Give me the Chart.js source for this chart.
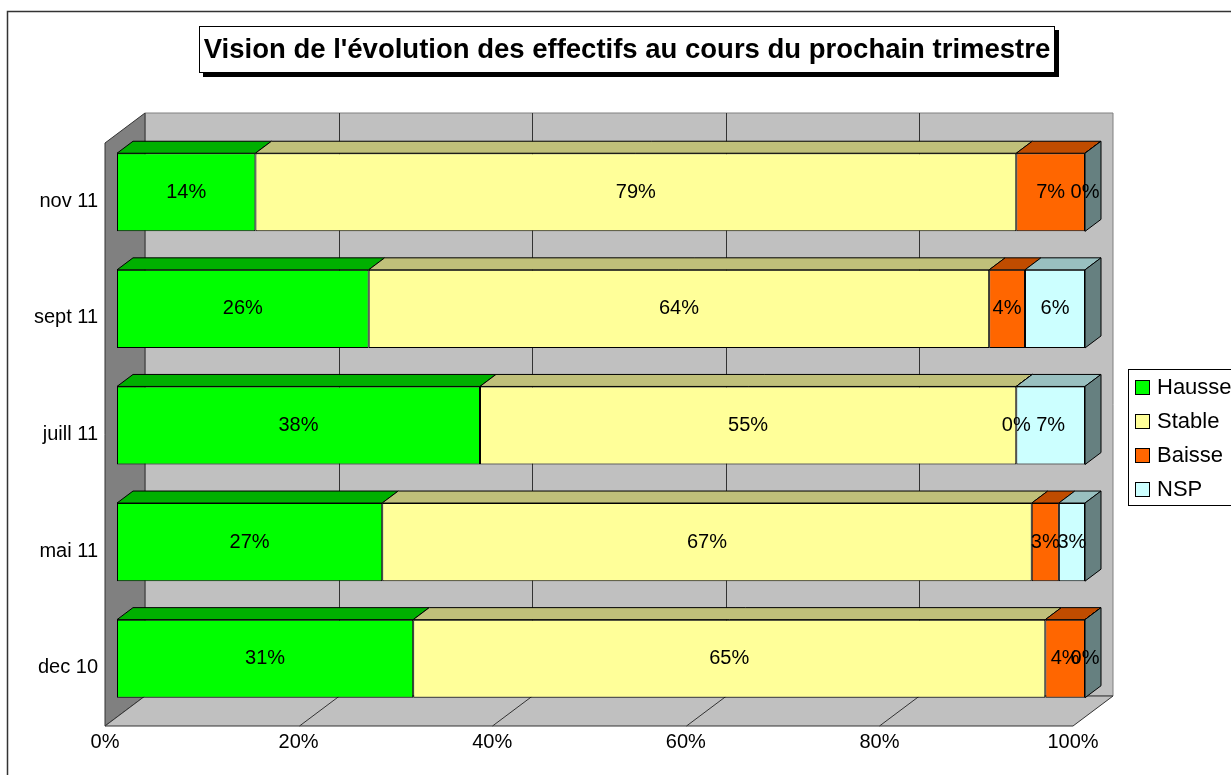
<!DOCTYPE html>
<html>
<head>
<meta charset="utf-8">
<script src="https://cdn.jsdelivr.net/npm/chart.js@4.4.1/dist/chart.umd.min.js"></script>
<style>
  body { margin: 0; background: #fff; }
  canvas { display: block; }
</style>
</head>
<body>
<canvas id="chart" width="1231" height="775"></canvas>
<script>
const categories = ["nov 11", "sept 11", "juill 11", "mai 11", "dec 10"];
const seriesNames = ["Hausse", "Stable", "Baisse", "NSP"];
const hausse = [14.3, 26.0, 37.5, 27.4, 30.6];
const stable = [78.6, 64.1, 55.4, 67.1, 65.3];
const baisse = [7.1, 3.7, 0, 2.8, 4.1];
const nsp = [0, 6.2, 7.1, 2.7, 0];
const xTicks = [0, 20, 40, 60, 80, 100];

const frontColors = ["#00ff00", "#ffff99", "#ff6600", "#ccffff"];
const topColors = ["#00b000", "#c0c07a", "#c04c00", "#99c0c0"];
const sideColors = ["#008000", "#808050", "#803300", "#668080"];

const FONT = "Arial, 'Liberation Sans', sans-serif";
// depth offsets (pixels) relative to the bar front plane
const BAR_DX = 16, BAR_DY = -12;
const FRONT_DX = -12, FRONT_DY = 9;
const BACK_DX = 28, BACK_DY = -21;

function poly(ctx, pts, fill, stroke) {
  ctx.beginPath();
  ctx.moveTo(pts[0][0], pts[0][1]);
  for (let i = 1; i < pts.length; i++) ctx.lineTo(pts[i][0], pts[i][1]);
  ctx.closePath();
  if (fill) { ctx.fillStyle = fill; ctx.fill(); }
  if (stroke) { ctx.strokeStyle = stroke; ctx.lineWidth = 1; ctx.stroke(); }
}

const frame3d = {
  id: "frame3d",
  beforeDraw(chart) {
    const ctx = chart.ctx;
    ctx.save();
    ctx.fillStyle = "#fff";
    ctx.fillRect(0, 0, chart.width, chart.height);
    ctx.strokeStyle = "#333";
    ctx.lineWidth = 1.5;
    ctx.strokeRect(7.5, 11.5, 1400, 900);
    ctx.restore();
  },
  beforeDatasetsDraw(chart) {
    const ctx = chart.ctx;
    const { left, right, top, bottom } = chart.chartArea;
    const xs = chart.scales.x, ys = chart.scales.y;
    ctx.save();
    // back wall
    poly(ctx, [[left + BACK_DX, top + BACK_DY], [right + BACK_DX, top + BACK_DY],
      [right + BACK_DX, bottom + BACK_DY], [left + BACK_DX, bottom + BACK_DY]], "#c0c0c0", "#808080");
    // left wall
    poly(ctx, [[left + FRONT_DX, top + FRONT_DY], [left + BACK_DX, top + BACK_DY],
      [left + BACK_DX, bottom + BACK_DY], [left + FRONT_DX, bottom + FRONT_DY]], "#808080", "#333");
    // floor
    poly(ctx, [[left + FRONT_DX, bottom + FRONT_DY], [left + BACK_DX, bottom + BACK_DY],
      [right + BACK_DX, bottom + BACK_DY], [right + FRONT_DX, bottom + FRONT_DY]], "#c0c0c0", "#333");
    // gridlines
    ctx.strokeStyle = "#333";
    ctx.lineWidth = 1;
    for (const v of xTicks.slice(1, -1)) {
      const px = Math.round(xs.getPixelForValue(v)) + 0.5;
      ctx.beginPath();
      ctx.moveTo(px + BACK_DX, top + BACK_DY);
      ctx.lineTo(px + BACK_DX, bottom + BACK_DY);
      ctx.lineTo(px + FRONT_DX, bottom + FRONT_DY);
      ctx.stroke();
    }
    // tick labels
    ctx.fillStyle = "#000";
    ctx.font = `20px ${FONT}`;
    ctx.textAlign = "center";
    ctx.textBaseline = "middle";
    for (const v of xTicks) {
      ctx.fillText(v + "%", xs.getPixelForValue(v) + FRONT_DX, bottom + FRONT_DY + 16);
    }
    ctx.textAlign = "right";
    categories.forEach((c, i) => {
      ctx.fillText(c, left + FRONT_DX - 7, ys.getPixelForValue(i) + FRONT_DY);
    });
    ctx.restore();
  },
  afterDatasetsDraw(chart) {
    const ctx = chart.ctx;
    const n = chart.data.datasets.length;
    ctx.save();
    for (let d = 0; d < n; d++) {
      const meta = chart.getDatasetMeta(d);
      meta.data.forEach((el) => {
        const { x, base, y, height } = el.getProps(["x", "base", "y", "height"], true);
        const t = y - height / 2, b = y + height / 2;
        poly(ctx, [[base, t], [base + BAR_DX, t + BAR_DY], [x + BAR_DX, t + BAR_DY], [x, t]], topColors[d], "#000");
        if (d === n - 1) {
          poly(ctx, [[x, t], [x + BAR_DX, t + BAR_DY], [x + BAR_DX, b + BAR_DY], [x, b]], sideColors[d], "#000");
        }
      });
    }
    ctx.fillStyle = "#000";
    ctx.font = `20px ${FONT}`;
    ctx.textAlign = "center";
    ctx.textBaseline = "middle";
    for (let d = 0; d < n; d++) {
      const meta = chart.getDatasetMeta(d);
      meta.data.forEach((el, i) => {
        const { x, base, y } = el.getProps(["x", "base", "y"], true);
        const v = chart.data.datasets[d].data[i];
        ctx.fillText(Math.round(v) + "%", (base + x) / 2, y);
      });
    }
    ctx.restore();
  },
  afterDraw(chart) {
    const ctx = chart.ctx;
    ctx.save();
    // title box with shadow
    ctx.fillStyle = "#000";
    ctx.fillRect(203, 30, 856, 47);
    ctx.fillStyle = "#fff";
    ctx.fillRect(199, 26, 856, 47);
    ctx.strokeStyle = "#000";
    ctx.lineWidth = 1;
    ctx.strokeRect(199.5, 26.5, 855, 46);
    ctx.fillStyle = "#000";
    ctx.font = `bold 27.5px ${FONT}`;
    ctx.textAlign = "center";
    ctx.textBaseline = "middle";
    ctx.fillText("Vision de l'évolution des effectifs au cours du prochain trimestre", 627, 50);
    // legend
    ctx.fillStyle = "#fff";
    ctx.fillRect(1128, 369, 200, 136);
    ctx.strokeStyle = "#000";
    ctx.strokeRect(1128.5, 369.5, 200, 136);
    ctx.font = `22px ${FONT}`;
    ctx.textAlign = "left";
    seriesNames.forEach((name, i) => {
      const cy = 387 + i * 34;
      ctx.fillStyle = frontColors[i];
      ctx.fillRect(1135, cy - 7, 15, 15);
      ctx.strokeStyle = "#000";
      ctx.strokeRect(1135.5, cy - 6.5, 14, 14);
      ctx.fillStyle = "#000";
      ctx.fillText(name, 1157, cy + 1);
    });
    ctx.restore();
  },
};

const values = [hausse, stable, baisse, nsp];

new Chart(document.getElementById("chart"), {
  type: "bar",
  data: {
    labels: categories,
    datasets: seriesNames.map((name, i) => ({
      label: name,
      data: values[i],
      backgroundColor: frontColors[i],
      borderColor: "#000",
      borderWidth: 1,
      borderSkipped: false,
      barPercentage: 0.67,
      categoryPercentage: 1,
    })),
  },
  options: {
    indexAxis: "y",
    responsive: false,
    animation: false,
    devicePixelRatio: 1,
    layout: { padding: { left: 117, right: 146, top: 134, bottom: 58 } },
    scales: {
      x: { stacked: true, min: 0, max: 100, display: false },
      y: { stacked: true, display: false },
    },
    plugins: { legend: { display: false }, tooltip: { enabled: false } },
  },
  plugins: [frame3d],
});
</script>
</body>
</html>
